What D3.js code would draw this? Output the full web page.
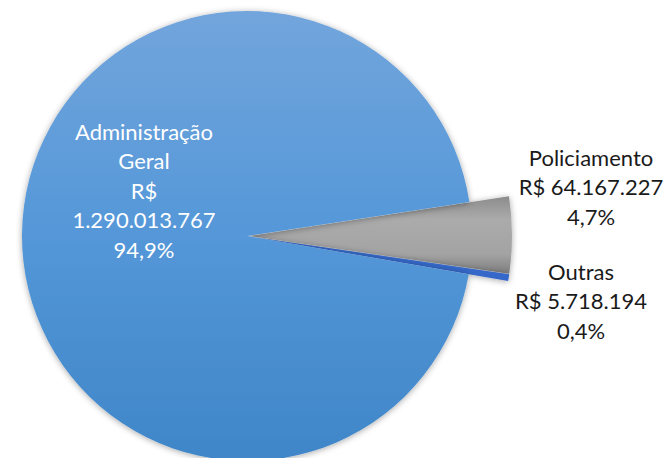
<!DOCTYPE html>
<html>
<head>
<meta charset="utf-8">
<script src="https://cdn.jsdelivr.net/npm/d3@7"></script>
<style>
  body { margin: 0; background: #fff; }
  svg { display: block; }
  text { font-family: Lato, "Open Sans", sans-serif; }
</style>
</head>
<body>
<svg width="663" height="458"></svg>
<script>
// data
var categories = ["Policiamento", "Outras", "Administração Geral"];
var values = [64167227, 5718194, 1290013767];
var valueLabels = ["R$ 64.167.227", "R$ 5.718.194", "R$ 1.290.013.767"];
var pctLabels = ["4,7%", "0,4%", "94,9%"];

var svgWidth = 663, svgHeight = 458;
var cx = 247, cy = 236, radius = 225;

var svg = d3.select("svg");
var defs = svg.append("defs");

var gBlue = defs.append("linearGradient").attr("id", "gBlue")
  .attr("x1", 0).attr("y1", 0).attr("x2", 0).attr("y2", 1);
gBlue.append("stop").attr("offset", "0%").attr("stop-color", "#72a5dc");
gBlue.append("stop").attr("offset", "50%").attr("stop-color", "#5497d8");
gBlue.append("stop").attr("offset", "100%").attr("stop-color", "#3f86c8");

var gGray = defs.append("linearGradient").attr("id", "gGray")
  .attr("x1", 0).attr("y1", 0).attr("x2", 0).attr("y2", 1);
gGray.append("stop").attr("offset", "0%").attr("stop-color", "#8c8c8c");
gGray.append("stop").attr("offset", "30%").attr("stop-color", "#ababab");
gGray.append("stop").attr("offset", "75%").attr("stop-color", "#a3a3a3");
gGray.append("stop").attr("offset", "100%").attr("stop-color", "#7d7d7d");

var shadow = defs.append("filter").attr("id", "shadow")
  .attr("x", "-20%").attr("y", "-20%").attr("width", "140%").attr("height", "140%");
shadow.append("feDropShadow").attr("dx", 0).attr("dy", 1)
  .attr("stdDeviation", 3).attr("flood-color", "#000").attr("flood-opacity", 0.35);

var fills = ["url(#gGray)", "#3567c8", "url(#gBlue)"];
var explode = [3, 3, 0];
var outer = [262, 262, radius];

var start = 81.3 * Math.PI / 180;
var pie = d3.pie().sort(null).startAngle(start).endAngle(start + 2 * Math.PI);
var arcs = pie(values);

var g = svg.append("g").attr("transform", "translate(" + cx + "," + cy + ")");

g.selectAll("path.slice")
  .data(arcs)
  .enter()
  .append("path")
  .attr("class", "slice")
  .attr("d", function(d, i) {
    return d3.arc().innerRadius(0).outerRadius(outer[i])(d);
  })
  .attr("transform", function(d, i) {
    var a = (d.startAngle + d.endAngle) / 2;
    return "translate(" + (Math.sin(a) * explode[i]) + "," + (-Math.cos(a) * explode[i]) + ")";
  })
  .style("fill", function(d, i) { return fills[i]; })
  .attr("filter", "url(#shadow)");

// labels
var fontSize = 22, lineH = 29.5;
var labelLines = [
  { x: 591, y: 158, color: "#1a1a1a", lines: [categories[0], valueLabels[0], pctLabels[0]] },
  { x: 581, y: 272, color: "#1a1a1a", lines: [categories[1], valueLabels[1], pctLabels[1]] },
  { x: 144, y: 132, color: "#ffffff", lines: ["Administração", "Geral", "R$", "1.290.013.767", pctLabels[2]] }
];

labelLines.forEach(function(l) {
  svg.append("text")
    .attr("x", l.x)
    .attr("y", l.y)
    .attr("text-anchor", "middle")
    .style("font-size", fontSize + "px")
    .style("fill", l.color)
    .selectAll("tspan")
    .data(l.lines)
    .enter()
    .append("tspan")
    .attr("x", l.x)
    .attr("dy", function(d, i) { return i === 0 ? "0.35em" : lineH; })
    .text(function(d) { return d; });
});
</script>
</body>
</html>
